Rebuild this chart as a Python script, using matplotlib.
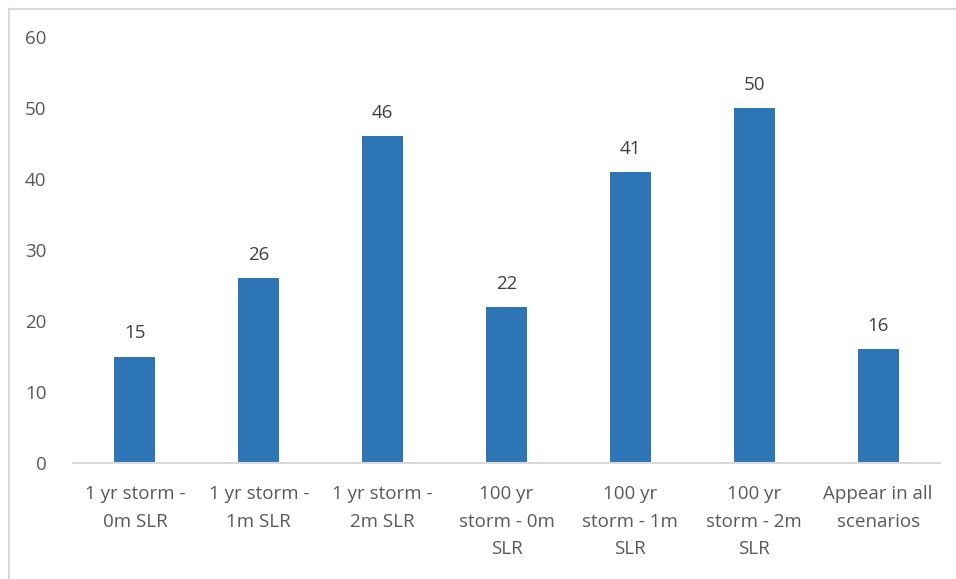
import matplotlib.pyplot as plt
from matplotlib.lines import Line2D

categories = ['1 yr storm -\n0m SLR', '1 yr storm -\n1m SLR', '1 yr storm -\n2m SLR',
              '100 yr\nstorm - 0m\nSLR', '100 yr\nstorm - 1m\nSLR', '100 yr\nstorm - 2m\nSLR',
              'Appear in all\nscenarios']
values = [15, 26, 46, 22, 41, 50, 16]
yticks = [0, 10, 20, 30, 40, 50, 60]

plt.rcParams['font.family'] = ['Open Sans', 'DejaVu Sans']
txt = '#595959'
bar_color = '#2E75B6'

W, H = 956, 579
fig = plt.figure(figsize=(W/100, H/100), dpi=100)
ax = fig.add_axes([73/W, (H-463)/H, (940-73)/W, (463-37)/H])

x = range(len(values))
ax.bar(x, values, width=0.33, color=bar_color)
for xi, v in zip(x, values):
    ax.text(xi, v + 2.0, str(v), ha='center', va='bottom', fontsize=13.5, color='#404040')

ax.set_xlim(-0.5, len(values) - 0.5)
ax.set_ylim(0, 60)
ax.set_yticks(yticks)
ax.set_yticklabels([str(t) for t in yticks], fontsize=13.5, color=txt)
ax.set_xticks(list(x))
ax.set_xticklabels(categories, fontsize=13.5, color=txt, linespacing=1.68)
ax.tick_params(axis='both', length=0)
ax.tick_params(axis='x', pad=16)
ax.tick_params(axis='y', pad=19)
for s in ['top', 'right', 'left']:
    ax.spines[s].set_visible(False)
ax.spines['bottom'].set_color('#D9D9D9')
ax.spines['bottom'].set_linewidth(1.5)

# light frame around the chart area
fig.add_artist(Line2D([8.5/W, 1], [1 - 8.5/H, 1 - 8.5/H], color='#D9D9D9', lw=1.5))
fig.add_artist(Line2D([8.5/W, 8.5/W], [0, 1 - 8.5/H], color='#D9D9D9', lw=1.5))

fig.savefig('out.png', dpi=100)
